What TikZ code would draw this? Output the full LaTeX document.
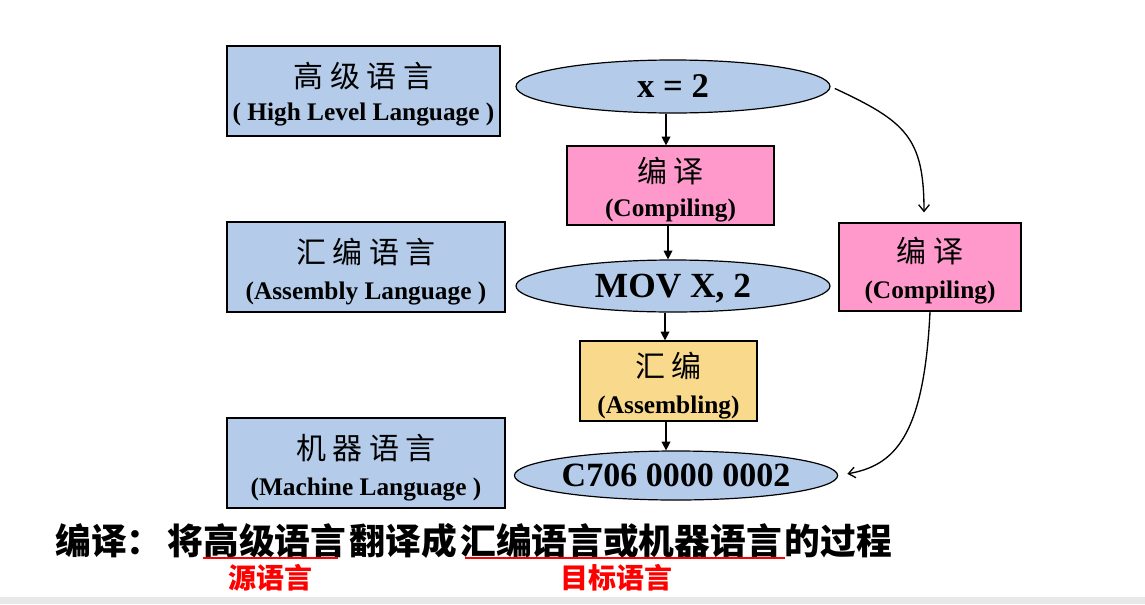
\documentclass[tikz,border=0pt]{standalone}
\usepackage{fontspec}
\setmainfont{Liberation Serif}
\newfontfamily\cjk{Noto Sans CJK SC}
\usetikzlibrary{arrows.meta,shapes.geometric,calc}
\definecolor{boxblue}{RGB}{180,204,234}
\definecolor{boxpink}{RGB}{255,153,204}
\definecolor{boxorange}{RGB}{249,217,140}
\definecolor{barfill}{RGB}{232,232,232}
\newcommand\zgap{\hspace{5pt}}
\begin{document}
\begin{tikzpicture}[x=0.75pt,y=-0.75pt,
  box/.style={draw=black, line width=0.9pt, rectangle, inner sep=0pt},
  ell/.style={draw=black, line width=0.9pt, ellipse, fill=boxblue, inner sep=0pt, text depth=0pt},
  zh/.style={inner sep=0pt, font=\cjk\fontsize{22.5}{26}\selectfont},
  en/.style={inner sep=0pt, font=\bfseries\fontsize{19}{22}\selectfont},
  code/.style={font=\bfseries\fontsize{26}{30}\selectfont},
  arr/.style={-{Triangle[length=6.5pt,width=6.5pt]}, line width=0.9pt},
  carr/.style={-{Straight Barb[length=5pt,width=8pt]}, line width=1pt},
  redlab/.style={inner sep=0pt, text=red, font=\cjk\bfseries\fontsize{21}{24}\selectfont}]
\useasboundingbox (0,0) rectangle (1145,604);
\fill[barfill] (0,597) rectangle (1145,604);

% left label boxes
\node[box, fill=boxblue, minimum width=273*0.75pt, minimum height=90*0.75pt] (hll) at (363.5,91) {};
\node[zh] (hllzh) at (363.5,76) {高\zgap 级\zgap 语\zgap 言};
\node[en] (hllen) at (363.5,115) {( High Level Language )};

\node[box, fill=boxblue, minimum width=278*0.75pt, minimum height=90*0.75pt] (asl) at (366,267) {};
\node[zh] (aslzh) at (366,252) {汇\zgap 编\zgap 语\zgap 言};
\node[en] (aslen) at (366,293) {(Assembly Language )};

\node[box, fill=boxblue, minimum width=278*0.75pt, minimum height=90*0.75pt] (mach) at (366,463) {};
\node[zh] (machzh) at (366,448) {机\zgap 器\zgap 语\zgap 言};
\node[en] (machen) at (366,489) {(Machine Language )};

% middle column
\node[ell, code, minimum width=314*0.75pt, minimum height=53*0.75pt] (x2) at (673,86.5) {x = 2};
\node[box, fill=boxpink, minimum width=207*0.75pt, minimum height=79*0.75pt] (comp) at (670.5,185.5) {};
\node[zh] (compzh) at (670.5,171) {编\zgap 译};
\node[en] (compen) at (670.5,211) {(Compiling)};

\node[ell, code, font=\bfseries\fontsize{26.5}{30}\selectfont, minimum width=314*0.75pt, minimum height=52*0.75pt] (mov) at (673,286) {MOV X, 2};

\node[box, fill=boxorange, minimum width=177*0.75pt, minimum height=80*0.75pt] (asmb) at (668.5,381) {};
\node[zh] (asmbzh) at (668.5,366) {汇\zgap 编};
\node[en] (asmben) at (668.5,407) {(Assembling)};

\node[ell, code, font=\bfseries\fontsize{25.5}{30}\selectfont, minimum width=320*0.75pt, minimum height=49*0.75pt] (mc) at (676,475.5) {C706 0000 0002};

% right compile box
\node[box, fill=boxpink, minimum width=182*0.75pt, minimum height=88*0.75pt] (rc) at (930,267) {};
\node[zh] (rczh) at (930,251) {编\zgap 译};
\node[en] (rcen) at (930,292) {(Compiling)};

% straight arrows
\draw[arr] (x2.south -| 666,0) -- (comp.north -| 666,0);
\draw[arr] (comp.south -| 668,0) -- (mov.north -| 668,0);
\draw[arr] (mov.south -| 665,0) -- (asmb.north -| 665,0);
\draw[arr] (asmb.south -| 666,0) -- (mc.north -| 666,0);

% curved arrows
\draw[carr, shorten <=3.5pt] (x2.east) .. controls +(75,35) and +(0,-75) .. ($(rc.north)+(-6,-10)$);
\draw[carr, shorten >=7pt] (rc.south) .. controls +(-6,127) and +(55,-10) .. (mc.east);

% bottom description
\node[anchor=west, inner sep=0pt, font=\cjk\bfseries\fontsize{26.8}{30}\selectfont] (desc) at (55,541)
  {编译：\hspace{4pt}将高级语言\hspace{2.5pt}翻译成\hspace{2.5pt}汇编语言或机器语言\hspace{2pt}的过程};
\draw[red, line width=1.8pt] (203,558) -- (338,558);
\draw[red, line width=1.8pt] (465,558) -- (785,558);
\node[redlab] (src) at (270.5,577.5) {源语言};
\node[redlab] (tgt) at (616.5,577.5) {目标语言};
\end{tikzpicture}
\end{document}
